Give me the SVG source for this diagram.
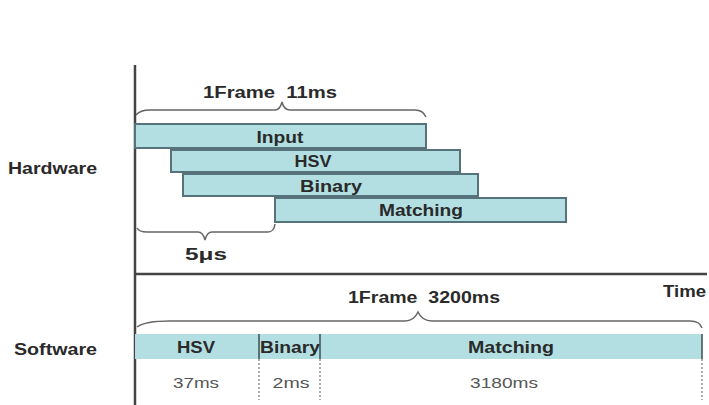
<svg xmlns="http://www.w3.org/2000/svg" width="709" height="405" viewBox="0 0 709 405">
<style>
.bar{fill:#b3dfe2;stroke:#56727a;stroke-width:2}
.sbar{fill:#b3dfe2;stroke:none}
.t{font-family:"Liberation Sans",Arial,sans-serif;font-weight:bold;fill:#2a2a2a;font-size:16px}
.n{font-family:"Liberation Sans",Arial,sans-serif;fill:#555;font-size:15px}
.axis{stroke:#444;stroke-width:2.5;fill:none}
.brace{stroke:#666;stroke-width:1.5;fill:none}
.dash{stroke:#777;stroke-width:1.2;stroke-dasharray:2 2;fill:none}
.div{stroke:#3c4f52;stroke-width:1.5}
</style>
<rect width="709" height="405" fill="#fff"/>
<g id="axes">
<line class="axis" x1="135" y1="65" x2="135" y2="405"/>
<line class="axis" x1="135" y1="274" x2="707" y2="274"/>
</g>
<g id="labels">
<text class="t" x="8" y="174" textLength="89" lengthAdjust="spacingAndGlyphs">Hardware</text>
<text class="t" x="14" y="355" textLength="83" lengthAdjust="spacingAndGlyphs">Software</text>
<text class="t" x="663" y="297" textLength="43" lengthAdjust="spacingAndGlyphs">Time</text>
</g>
<g id="hw-frame">
<path class="brace" d="M136,115 Q140,110 150,110 L275,110 Q280,110 282,102 Q284,110 290,110 L415,110 Q423,110 426,117"/>
<text class="t" x="203" y="98" textLength="134" lengthAdjust="spacingAndGlyphs" xml:space="preserve">1Frame  11ms</text>
</g>
<g id="hw-input">
<rect class="bar" x="135" y="124" width="291" height="24"/>
<text class="t" x="280" y="143" text-anchor="middle" textLength="47" lengthAdjust="spacingAndGlyphs">Input</text>
</g>
<g id="hw-hsv">
<rect class="bar" x="171" y="150" width="289" height="22"/>
<text class="t" x="313" y="167" text-anchor="middle" textLength="37" lengthAdjust="spacingAndGlyphs">HSV</text>
</g>
<g id="hw-binary">
<rect class="bar" x="183" y="174" width="295" height="22"/>
<text class="t" x="331" y="192" text-anchor="middle" textLength="62" lengthAdjust="spacingAndGlyphs">Binary</text>
</g>
<g id="hw-matching">
<rect class="bar" x="275" y="198" width="291" height="24"/>
<text class="t" x="421" y="216" text-anchor="middle" textLength="84" lengthAdjust="spacingAndGlyphs">Matching</text>
</g>
<g id="hw-delay">
<path class="brace" d="M137,228 Q139,232 147,232 L198,232 Q203,232 205,240 Q207,232 212,232 L268,232 Q274,232 275,224"/>
<text class="t" x="185" y="260" textLength="42" lengthAdjust="spacingAndGlyphs">5μs</text>
</g>
<g id="sw-frame">
<path class="brace" d="M137,327 Q145,321 170,321 L405,321 Q414,321 418,312 Q422,321 432,321 L690,321 Q700,321 702,328"/>
<text class="t" x="348" y="303" textLength="152" lengthAdjust="spacingAndGlyphs" xml:space="preserve">1Frame  3200ms</text>
</g>
<g id="sw-bar">
<rect class="sbar" x="135" y="334" width="567" height="25"/>
</g>
<g id="sw-hsv">
<text class="t" x="196" y="353" text-anchor="middle" textLength="38" lengthAdjust="spacingAndGlyphs">HSV</text>
<text class="n" x="196" y="388" text-anchor="middle" textLength="46" lengthAdjust="spacingAndGlyphs">37ms</text>
</g>
<g id="sw-binary">
<text class="t" x="290" y="353" text-anchor="middle" textLength="60" lengthAdjust="spacingAndGlyphs">Binary</text>
<text class="n" x="291" y="388" text-anchor="middle" textLength="37" lengthAdjust="spacingAndGlyphs">2ms</text>
</g>
<g id="sw-matching">
<text class="t" x="511" y="353" text-anchor="middle" textLength="86" lengthAdjust="spacingAndGlyphs">Matching</text>
<text class="n" x="504" y="388" text-anchor="middle" textLength="68" lengthAdjust="spacingAndGlyphs">3180ms</text>
</g>
<g id="connectors">
<line class="div" x1="259" y1="334" x2="259" y2="359"/>
<line class="div" x1="320" y1="334" x2="320" y2="359"/>
<line class="div" x1="702" y1="334" x2="702" y2="359"/>
<line class="dash" x1="259" y1="359" x2="259" y2="400"/>
<line class="dash" x1="320" y1="359" x2="320" y2="400"/>
<line class="dash" x1="702" y1="359" x2="702" y2="400"/>
</g>
</svg>
